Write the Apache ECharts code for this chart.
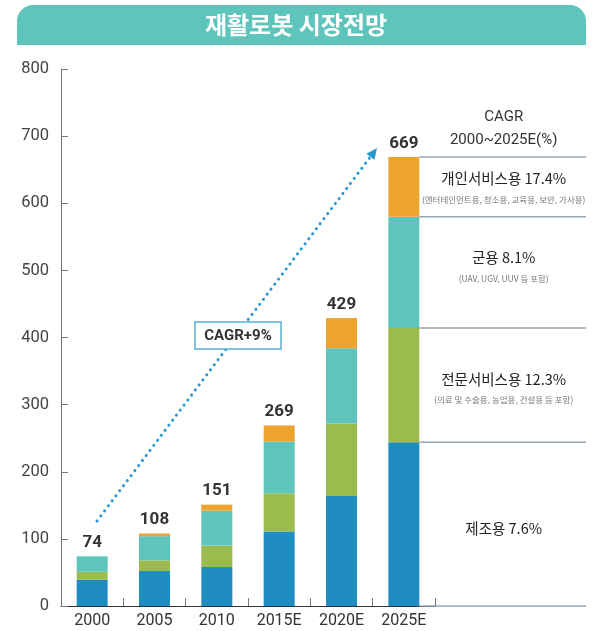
<!DOCTYPE html>
<html><head><meta charset="utf-8">
<script src="https://cdn.jsdelivr.net/npm/echarts@6/dist/echarts.min.js"></script>
<style>html,body{margin:0;padding:0;background:#fff}#c{width:593px;height:631px}</style>
</head><body><div id="c"></div>
<script>
const title = '재활로봇 시장전망';
const categories = ['2000','2005','2010','2015E','2020E','2025E'];
const manufacturing = [39, 52, 58, 111, 164, 244];
const professional = [12, 16, 32, 57, 108, 170];
const military = [23, 36, 52, 77, 112, 166];
const personal = [0, 4, 9, 24, 45, 89];
const totals = [74, 108, 151, 269, 429, 669];
const yTicks = [0, 100, 200, 300, 400, 500, 600, 700, 800];
const cagrHeader = ['CAGR', '2000~2025E(%)'];
const cagrNotes = [
  {main: '개인서비스용 17.4%', sub: '(엔터테인먼트용, 청소용, 교육용, 보안, 가사용)'},
  {main: '군용 8.1%', sub: '(UAV, UGV, UUV 등 포함)'},
  {main: '전문서비스용 12.3%', sub: '(의료 및 수술용, 농업용, 건설용 등 포함)'},
  {main: '제조용 7.6%', sub: ''}
];
const cagrOverall = 'CAGR+9%';

const colors = {blue:'#1f8dbf', green:'#9bbb4e', teal:'#5dc5bd', orange:'#eea32e'};
const numFont = 'Roboto, "Noto Sans CJK KR", sans-serif';
const krFont = '"Noto Sans CJK KR", sans-serif';
const BW = 31;

const chart = echarts.init(document.getElementById('c'), null, {renderer:'canvas'});
function seg(name, data, color){
  return {name, type:'bar', stack:'s', data, barWidth:BW, itemStyle:{color}, silent:true};
}
chart.setOption({
  animation:false,
  grid:{left:61, right:158, top:69, bottom:25, containLabel:false},
  xAxis:{type:'category', data:categories,
    axisLine:{lineStyle:{color:'#333', width:1}},
    axisTick:{show:true, inside:true, length:8, lineStyle:{color:'#777'}},
    axisLabel:{color:'#333', fontSize:16, fontFamily:numFont, margin:7}},
  yAxis:{type:'value', min:0, max:800, interval:100,
    axisLine:{show:true, lineStyle:{color:'#777'}},
    axisTick:{show:true, inside:true, length:7, lineStyle:{color:'#777'}},
    splitLine:{show:false},
    axisLabel:{color:'#444', fontSize:16.5, fontFamily:numFont, margin:12,
      formatter:v=> yTicks.includes(v) ? String(v) : ''}},
  series:[
    seg('제조용', manufacturing, colors.blue),
    seg('전문서비스용', professional, colors.green),
    seg('군용', military, colors.teal),
    seg('개인서비스용', personal, colors.orange),
    {name:'total', type:'bar', data:totals, barWidth:BW, barGap:'-100%', z:1,
      itemStyle:{color:'rgba(0,0,0,0)'}, silent:true,
      label:{show:true, position:'top', distance:5, color:'#333', fontSize:17, fontWeight:'bold', fontFamily:numFont}}
  ]
});

const g = [];
g.push({type:'rect', shape:{x:17, y:5, width:569, height:40, r:[16,16,0,0]}, style:{fill:'#5ec5bc'}, z:10});
g.push({type:'text', x:296, y:25, style:{text:title, fill:'#fff', font:'bold 24px "Noto Sans CJK KR", sans-serif', textAlign:'center', textVerticalAlign:'middle'}, z:11});

const lastIdx = categories.length-1;
const cx = chart.convertToPixel({xAxisIndex:0}, categories[lastIdx]);
const lx1 = cx + BW/2, lx2 = 586, tx = (lx1 + lx2)/2 + 1;
const bounds = [0, manufacturing[lastIdx], manufacturing[lastIdx]+professional[lastIdx],
  manufacturing[lastIdx]+professional[lastIdx]+military[lastIdx], totals[lastIdx]];
const py = bounds.map(v => chart.convertToPixel({yAxisIndex:0}, v));
py.forEach(y => g.push({type:'line', shape:{x1:lx1, y1:y, x2:lx2, y2:y}, style:{stroke:'#97a6b0', lineWidth:1.5}, z:5}));
const topY = py[4];
g.push({type:'text', x:tx, y:topY-40, style:{text:cagrHeader[0], fill:'#333', font:'15px '+numFont, textAlign:'center', textVerticalAlign:'middle'}});
g.push({type:'text', x:tx, y:topY-17, style:{text:cagrHeader[1], fill:'#333', font:'15px '+numFont, textAlign:'center', textVerticalAlign:'middle'}});
const segTops = [py[4], py[3], py[2], py[1]];
const mainOff = [22, 41, 51, 86];
const subOff = [43, 62, 72, 0];
cagrNotes.forEach((n,i)=>{
  g.push({type:'text', x:tx, y:segTops[i]+mainOff[i], style:{text:n.main, fill:'#222', font:'14.5px '+krFont, textAlign:'center', textVerticalAlign:'middle'}});
  if(n.sub) g.push({type:'text', x:tx, y:segTops[i]+subOff[i], style:{text:n.sub, fill:'#777', font:'8.5px '+krFont, textAlign:'center', textVerticalAlign:'middle'}});
});
const ax1 = 97, ay1 = 521, ax2 = 377, ay2 = 148;
const ang = Math.atan2(ay2-ay1, ax2-ax1);
const hl = 11, hw = 5;
const bx = ax2 - hl*Math.cos(ang), by = ay2 - hl*Math.sin(ang);
g.push({type:'line', shape:{x1:ax1, y1:ay1, x2:bx, y2:by}, style:{stroke:'#2a98d0', lineWidth:3, lineDash:[0.1,6.2], lineCap:'round'}, z:6});
g.push({type:'polygon', shape:{points:[[ax2,ay2],[bx - hw*Math.sin(ang), by + hw*Math.cos(ang)],[bx + hw*Math.sin(ang), by - hw*Math.cos(ang)]]}, style:{fill:'#2a98d0'}, z:6});
g.push({type:'rect', shape:{x:195, y:322, width:86, height:27}, style:{fill:'#fff', stroke:'#5aaed8', lineWidth:1.5}, z:7});
g.push({type:'text', x:238, y:336, style:{text:cagrOverall, fill:'#333', font:'bold 15px '+numFont, textAlign:'center', textVerticalAlign:'middle'}, z:8});
chart.setOption({graphic:g});
</script></body></html>
